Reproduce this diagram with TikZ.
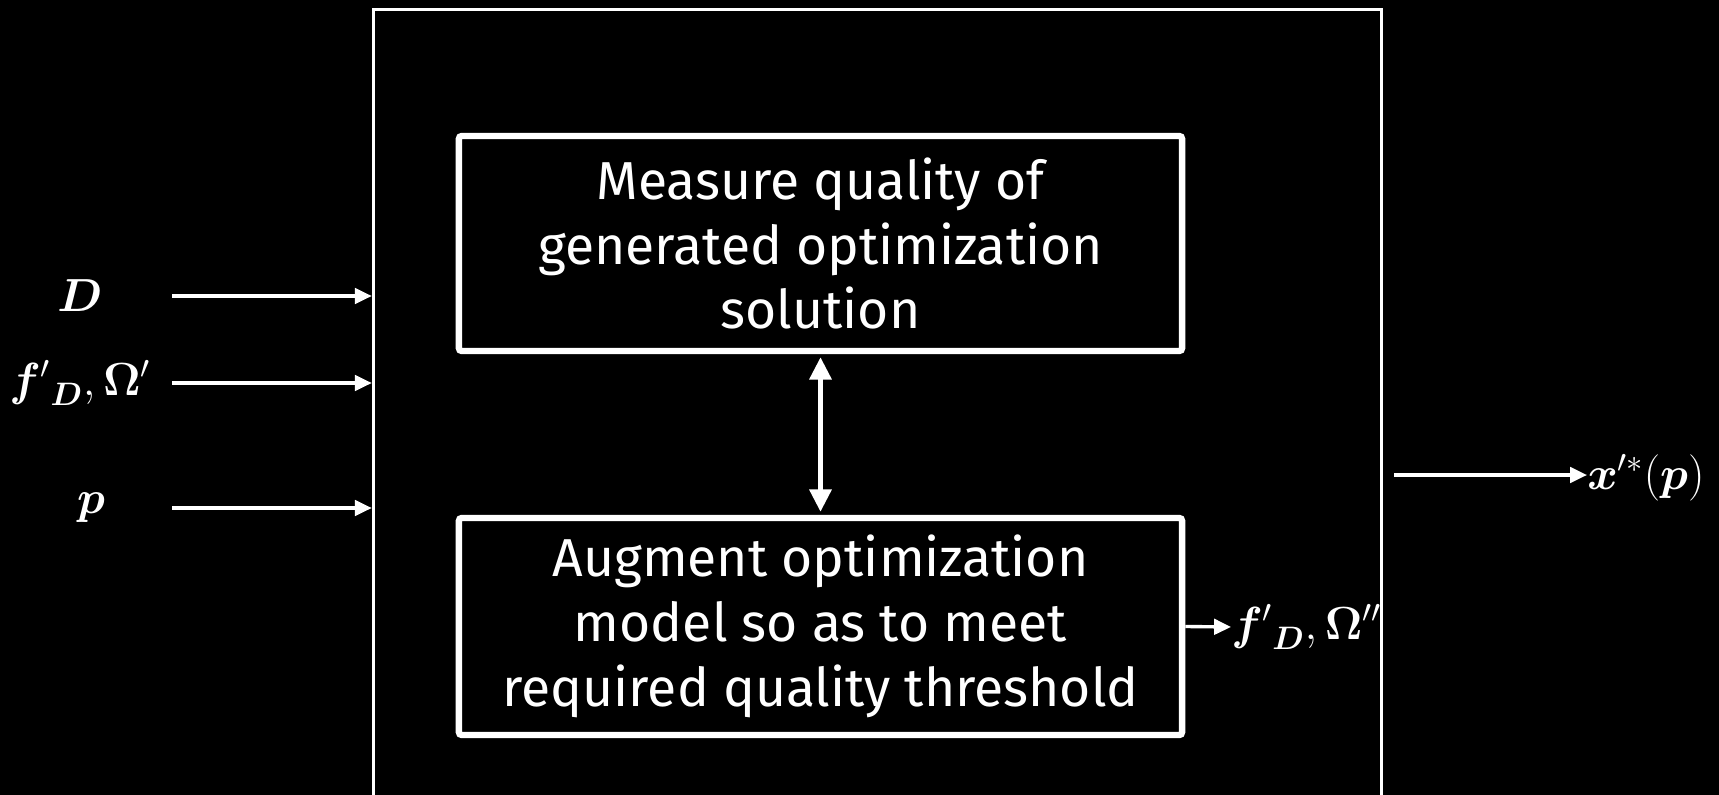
\documentclass[tikz,border=0pt]{standalone}
\usepackage{fix-cm}
\usepackage{amsmath}
\usepackage{bm}
\usepackage[no-math]{fontspec}
\setmainfont{Fira Sans}
\usetikzlibrary{positioning, arrows.meta}

\begin{document}
\begin{tikzpicture}[
    x=0.025cm, y=-0.025cm,
    >={Triangle[length=12pt, width=11pt]},
    frame/.style={draw=white, line width=2.2pt, minimum width=25.19cm,
                  minimum height=21cm, inner sep=0pt},
    stage/.style={draw=white, line width=4.5pt, rounded corners=2pt, align=center,
                  minimum width=18.075cm, inner sep=0pt, text=white,
                  font=\fontsize{38}{46}\selectfont},
    lbl/.style={text=white, inner sep=0pt, font=\fontsize{33}{38}\selectfont},
    flow/.style={->, draw=white, line width=2.4pt},
]
\useasboundingbox (0,0) rectangle (1719,795);
\fill[black] (0,0) rectangle (1719,795);
\clip (0,0) rectangle (1719,795);

\node[frame] (model) at (877.25,430) {};

\node[stage, minimum height=5.375cm] (measure) at (820.5,243.5)
    {Measure quality of\\generated optimization\\solution};
\node[stage, minimum height=5.425cm] (augment) at (820.5,626.5)
    {Augment optimization\\model so as to meet\\required quality threshold};

\draw[{Triangle[length=16pt, width=15pt]}-{Triangle[length=16pt, width=15pt]},
      draw=white, line width=4pt, shorten <=2pt, shorten >=2pt]
    (measure.south) -- (augment.north);

% inputs
\node[lbl] (inD) at (80,296) {$\bm{D}$};
\node[lbl] (inF) at (80,383) {${\bm{f}'}_{\bm{D}},\mathbf{\Omega}'$};
\node[lbl] (inP) at (91,508) {$\bm{p}$};
\coordinate (sD) at (172,296);
\coordinate (sF) at (172,383);
\coordinate (sP) at (172,508);
\draw[flow] (sD) -- (sD -| model.west);
\draw[flow] (sF) -- (sF -| model.west);
\draw[flow] (sP) -- (sP -| model.west);

% outputs
\node[lbl, anchor=west] (fOut) at (1231,627) {${\bm{f}'}_{\bm{D}},\mathbf{\Omega}''$};
\draw[flow] (augment.east) -- (fOut.west);

\node[lbl, anchor=west] (xOut) at (1587,478) {$\bm{x}'^{*}(\bm{p})$};
\coordinate (sX) at (1394,475);
\draw[flow] (sX) -- (sX -| xOut.west);

\end{tikzpicture}
\end{document}
